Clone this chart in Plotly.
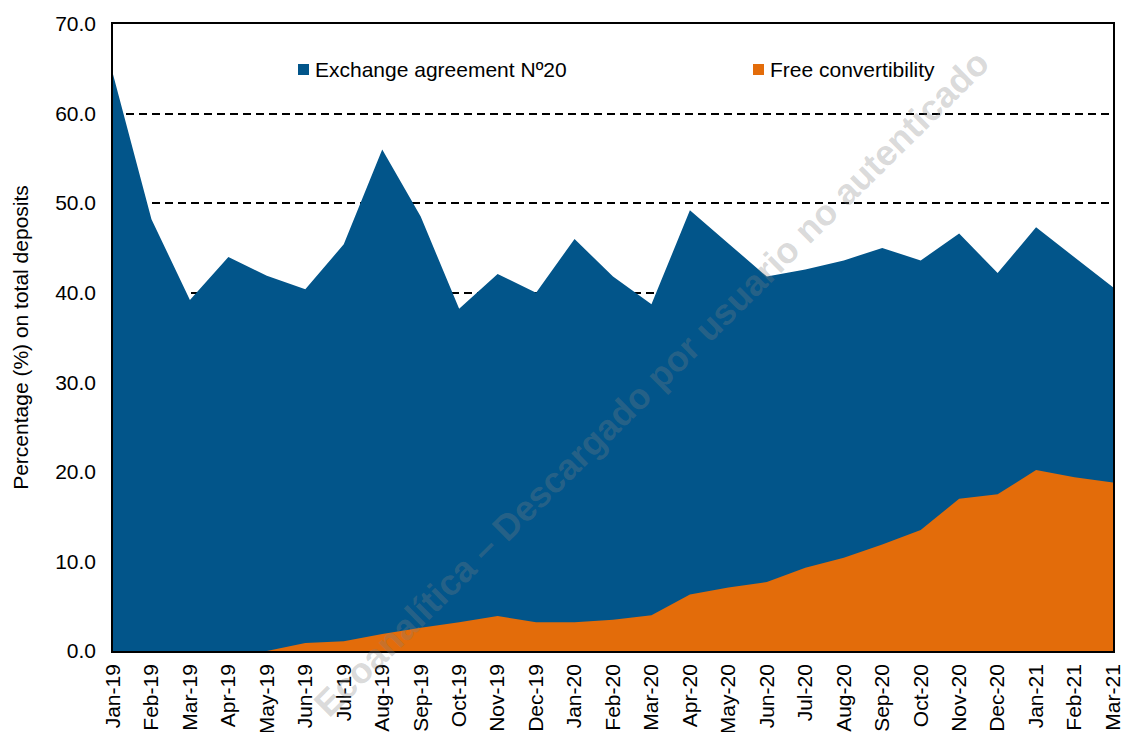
import plotly.graph_objects as go

months = ["Jan-19", "Feb-19", "Mar-19", "Apr-19", "May-19", "Jun-19", "Jul-19", "Aug-19", "Sep-19",
          "Oct-19", "Nov-19", "Dec-19", "Jan-20", "Feb-20", "Mar-20", "Apr-20", "May-20", "Jun-20",
          "Jul-20", "Aug-20", "Sep-20", "Oct-20", "Nov-20", "Dec-20", "Jan-21", "Feb-21", "Mar-21"]

exchange_agreement = [64.4, 48.2, 39.2, 44.0, 41.9, 40.4, 45.4, 56.0, 48.5,
                      38.2, 42.1, 40.0, 46.0, 41.8, 38.7, 49.2, 45.5, 41.8,
                      42.6, 43.6, 45.0, 43.6, 46.6, 42.2, 47.3, 44.0, 40.6]

free_convertibility = [0.0, 0.0, 0.0, 0.0, 0.0, 0.9, 1.1, 1.9, 2.6,
                       3.2, 3.9, 3.2, 3.2, 3.5, 4.0, 6.3, 7.1, 7.7,
                       9.3, 10.4, 11.9, 13.5, 17.0, 17.5, 20.2, 19.4, 18.8]

y_ticks = [0, 10, 20, 30, 40, 50, 60, 70]

BLUE = "rgb(2,85,138)"
ORANGE = "rgb(227,108,10)"
FONT = "Liberation Sans, Arial, sans-serif"
FS = 21

fig = go.Figure()
fig.add_trace(go.Scatter(x=months, y=exchange_agreement, mode="lines", fill="tozeroy",
                         fillcolor=BLUE, line=dict(width=0, color=BLUE),
                         name="Exchange agreement Nº20", showlegend=False))
fig.add_trace(go.Scatter(x=months, y=free_convertibility, mode="lines", fill="tozeroy",
                         fillcolor=ORANGE, line=dict(width=0, color=ORANGE),
                         name="Free convertibility", showlegend=False))

W, H = 1122, 732
L, R, T, B = 113, 9, 24, 81
pw, ph = W - L - R, H - T - B


def px(x):
    return (x - L) / pw


def py(y):
    return (H - B - y) / ph


# legend (custom, inside plot)
legend_items = [("Exchange agreement Nº20", BLUE, 298), ("Free convertibility", ORANGE, 753)]
shapes = []
annotations = []
for label, col, x0 in legend_items:
    shapes.append(dict(type="rect", xref="paper", yref="paper",
                       x0=px(x0), x1=px(x0 + 11), y0=py(75), y1=py(64),
                       fillcolor=col, line=dict(width=0)))
    annotations.append(dict(text=label, xref="paper", yref="paper", x=px(x0 + 15), y=py(69),
                            xanchor="left", yanchor="middle", showarrow=False,
                            font=dict(family=FONT, size=FS, color="black")))

# watermark
annotations.append(dict(text="<b>Ecoanalítica – Descargado por usuario no autenticado</b>",
                        xref="paper", yref="paper", x=px(651), y=py(383),
                        xanchor="center", yanchor="middle", showarrow=False, textangle=-44.6,
                        font=dict(family=FONT, size=36, color="rgba(128,128,128,0.30)")))

fig.update_layout(
    width=W, height=H,
    margin=dict(l=L, r=R, t=T, b=B, pad=0),
    paper_bgcolor="white", plot_bgcolor="white",
    font=dict(family=FONT, size=FS, color="black"),
    shapes=shapes, annotations=annotations,
    showlegend=False,
)
fig.update_xaxes(
    type="category", range=[0, len(months) - 1], tickangle=-90, automargin=False,
    showgrid=False, showline=True, mirror=True, linecolor="black", linewidth=1.5,
    ticks="", ticklabelstandoff=3, tickfont=dict(family=FONT, size=FS, color="black"),
)
fig.update_yaxes(
    range=[0, 70], tickvals=y_ticks, tickformat=".1f", automargin=False,
    showgrid=True, gridcolor="black", gridwidth=1.5, griddash="8px,5px",
    showline=True, mirror=True, linecolor="black", linewidth=1.5,
    ticks="", ticklabelstandoff=11, zeroline=False,
    tickfont=dict(family=FONT, size=FS, color="black"),
    title=dict(text="Percentage (%) on total deposits", standoff=21,
               font=dict(family=FONT, size=FS, color="black")),
)

fig.write_html("out.html")
